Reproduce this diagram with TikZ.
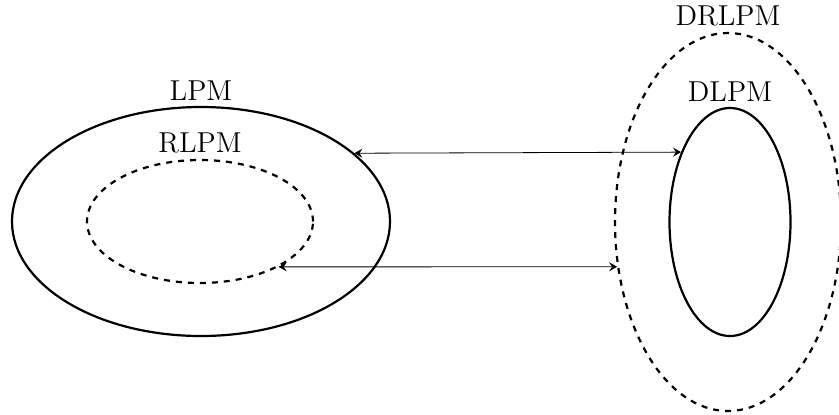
\documentclass[tikz,border=0pt]{standalone}
\usepackage{tikz}
\usetikzlibrary{shapes.geometric, arrows.meta, positioning, calc}

\begin{document}
\begin{tikzpicture}[
        x=0.5pt, y=-0.5pt,
        node distance=2.5pt,
        set/.style={ellipse, draw=black, line width=1.1pt, inner sep=0pt},
        subset/.style={set, dashed},
        tag/.style={inner sep=0pt, font=\Large},
        link/.style={{Stealth[length=4pt, width=4.5pt, inset=1.5pt]}-{Stealth[length=4pt, width=4.5pt, inset=1.5pt]}, thin}
    ]
    \useasboundingbox (0,0) rectangle (839,414);

    % Sets
    \node[set, minimum width=189pt, minimum height=114.5pt] (lpm) at (201,221.5) {};
    \node[subset, minimum width=113pt, minimum height=61.5pt] (rlpm) at (200,221.5) {};

    \node[subset, minimum width=113pt, minimum height=189pt] (drlpm) at (728,222) {};
    \node[set, minimum width=60.5pt, minimum height=114pt] (dlpm) at (730,222) {};

    % Labels
    \node[tag, above=of lpm.north] (lpmtag) {LPM};
    \node[tag, above=of rlpm.north] (rlpmtag) {RLPM};
    \node[tag, above=of drlpm.north] (drlpmtag) {DRLPM};
    \node[tag, above=of dlpm.north] (dlpmtag) {DLPM};

    % Arrows
    \draw[link] (lpm.24.34) -- (dlpm.125.8);
    \draw[link] (rlpm.-30.3) -- (drlpm.202.06);

\end{tikzpicture}
\end{document}
